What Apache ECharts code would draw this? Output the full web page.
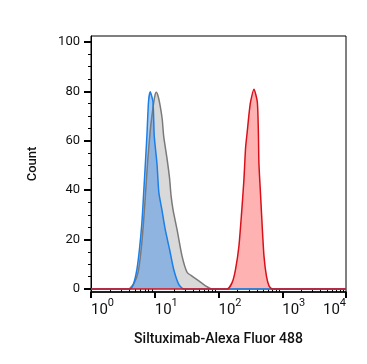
<!DOCTYPE html>
<html><head><meta charset="utf-8">
<script src="https://cdn.jsdelivr.net/npm/echarts@6/dist/echarts.min.js"></script>
<style>html,body{margin:0;padding:0;background:#fff}#c{width:367px;height:364px}</style>
</head><body><div id="c"></div>
<script>
// tick labels / ticks
const xDecades = [0, 1, 2, 3, 4];
const yTicks = [0, 20, 40, 60, 80, 100];
const yMinorTicks = [5, 10, 15, 25, 30, 35, 45, 50, 55, 65, 70, 75, 85, 90, 95];
const xMinorTicks = [2,3,4,5,6,7,8,9, 20,30,40,50,60,70,80,90, 200,300,400,500,600,700,800,900, 2000,3000,4000,5000,6000,7000,8000,9000];

// isotype control (gray)
const grayX = [1, 3.86, 4.75, 5.5, 6.12, 6.71, 7.22, 7.76, 8.49, 9.31, 10.0, 10.56, 11.35, 12.2, 13.1, 13.8, 15.6, 17.1, 18.0, 19.4, 22.4, 26.8, 32.1, 38.5, 49.0, 62.4, 79.4, 10000];
const grayY = [0, 0, 2.4, 7, 16, 28, 40, 52, 64, 72.7, 78, 79.6, 77.8, 73.9, 68.7, 61.9, 52.7, 44.7, 37.9, 31.9, 24, 13.3, 6.8, 5.2, 3.3, 1.3, 0, 0];

// unstained (blue)
const blueX = [1, 4.11, 4.63, 5.25, 5.75, 6.28, 6.67, 7.53, 7.98, 8.49, 9.38, 9.82, 10.84, 11.6, 12.97, 14.62, 17.1, 19.8, 23.7, 28.4, 10000];
const blueY = [0, 0, 2.0, 8.0, 16.0, 26.7, 37.9, 61.9, 75.8, 79.8, 75.8, 61.9, 50.7, 39, 31.9, 24, 16, 8, 2, 0, 0];

// Siltuximab-Alexa Fluor 488 (red)
const redX = [1, 137, 164, 185, 209, 230, 250, 266, 283, 300, 319, 360, 406, 422, 431, 459, 488, 517, 564, 620, 701, 10000];
const redY = [0, 0, 2.7, 8, 17.3, 30.6, 43.9, 57.2, 63.9, 70.5, 75.8, 80.9, 75.8, 63.9, 50.6, 37.2, 24, 13.3, 5.3, 1.3, 0, 0];

const toPts = (xs, ys) => xs.map((x, i) => [Math.log10(x), ys[i]]);

const chart = echarts.init(document.getElementById('c'));
const font = 'Roboto, "Noto Sans", sans-serif';
const yMin = -1.2, yMax = 102.4;
chart.setOption({
  animation: false,
  grid: { left: 91, right: 21, top: 36, bottom: 72, show: true, borderColor: '#000', borderWidth: 1, backgroundColor: 'transparent' },
  xAxis: [{
    type: 'value', min: 0, max: 4, interval: 1,
    name: 'Siltuximab-Alexa Fluor 488', nameLocation: 'middle', nameGap: 40,
    nameTextStyle: { fontFamily: font, fontSize: 14, fontWeight: 500, color: '#111' },
    axisLine: { show: true, onZero: false, lineStyle: { color: '#000', width: 1.5 } },
    axisTick: { show: true, length: 6, lineStyle: { color: '#000', width: 2 } },
    splitLine: { show: false },
    axisLabel: {
      margin: 6, align: 'left', alignMaxLabel: 'right', showMinLabel: true, showMaxLabel: true,
      formatter: v => '{b|10}{s|' + v + '}',
      rich: {
        b: { fontFamily: font, fontSize: 15, color: '#111', verticalAlign: 'bottom', lineHeight: 20 },
        s: { fontFamily: font, fontSize: 11, color: '#111', verticalAlign: 'top', lineHeight: 11 }
      }
    }
  }, {
    type: 'value', min: 0, max: 4, position: 'bottom',
    axisLine: { show: false }, splitLine: { show: false }, axisLabel: { show: false },
    axisTick: { show: true, length: 3, customValues: xMinorTicks.map(v => Math.log10(v)), lineStyle: { color: '#000', width: 1 } }
  }],
  yAxis: [{
    type: 'value', min: yMin, max: yMax,
    name: 'Count', nameLocation: 'middle', nameGap: 52, nameRotate: 90,
    nameTextStyle: { fontFamily: font, fontSize: 13, fontWeight: 500, color: '#111' },
    axisLine: { show: true, onZero: false, lineStyle: { color: '#000', width: 1 } },
    axisTick: { show: true, length: 7, customValues: yTicks, lineStyle: { color: '#000', width: 2 } },
    axisLabel: { margin: 11, customValues: yTicks, fontFamily: font, fontSize: 13, color: '#111' },
    splitLine: { show: false }
  }, {
    type: 'value', min: yMin, max: yMax, position: 'left',
    axisLine: { show: false }, splitLine: { show: false }, axisLabel: { show: false },
    axisTick: { show: true, length: 3, customValues: yMinorTicks, lineStyle: { color: '#000', width: 1 } }
  }],
  series: [
    { type: 'line', data: toPts(grayX, grayY), symbol: 'none', smooth: 0.2,
      lineStyle: { color: '#7a7a7a', width: 1.5 }, areaStyle: { color: 'rgba(135,135,135,0.45)', origin: 0 } },
    { type: 'line', data: toPts(blueX, blueY), symbol: 'none', smooth: 0.2,
      lineStyle: { color: '#1a7fe8', width: 1.5 }, areaStyle: { color: 'rgba(25,120,235,0.55)', origin: 0 } },
    { type: 'line', data: toPts(redX, redY), symbol: 'none', smooth: 0.2,
      lineStyle: { color: '#d9101a', width: 1.5 }, areaStyle: { color: 'rgba(255,25,25,0.48)', origin: 0 } }
  ]
});
</script></body></html>
